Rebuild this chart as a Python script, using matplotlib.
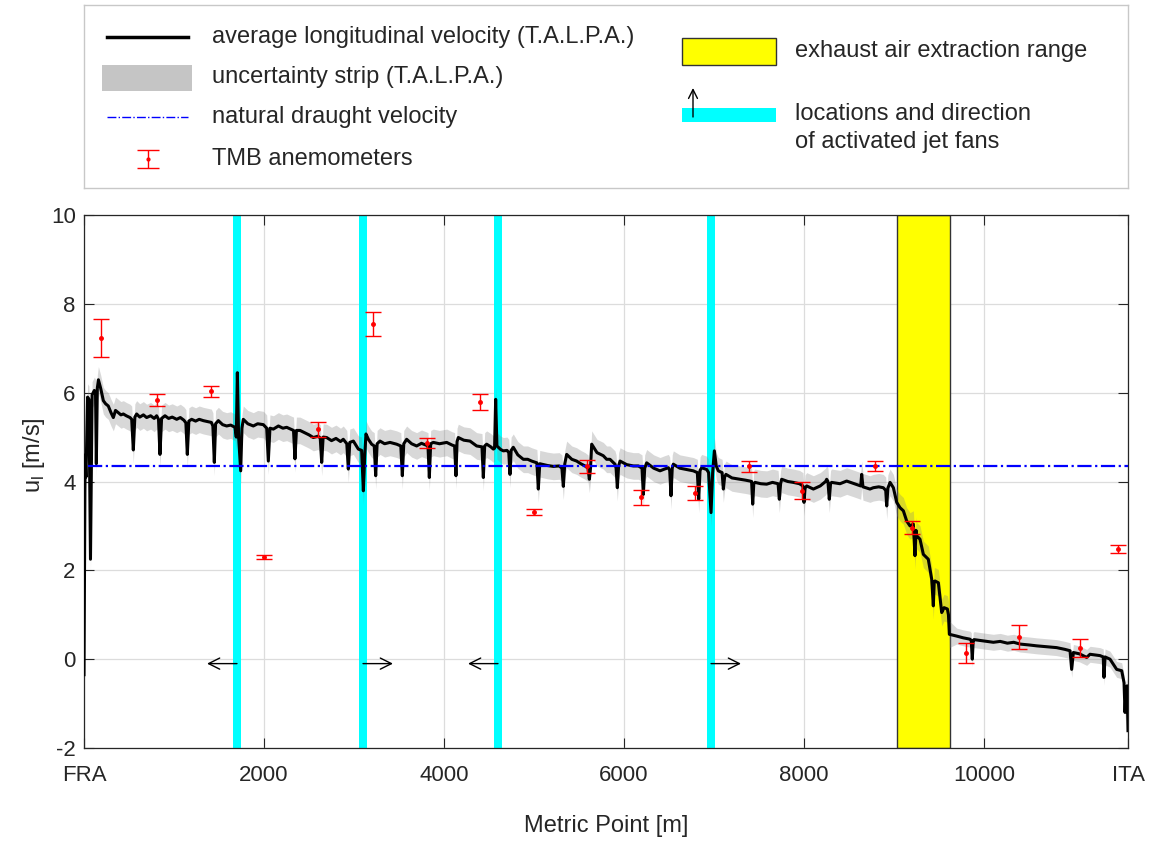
import numpy as np
import matplotlib
matplotlib.use('Agg')
import matplotlib.pyplot as plt
from matplotlib.patches import Rectangle

plt.rcParams['font.family'] = ['Liberation Sans', 'DejaVu Sans']
plt.rcParams['axes.unicode_minus'] = False

# --- data ------------------------------------------------------------------
# average longitudinal velocity (T.A.L.P.A.), metric point [m] vs u_l [m/s]
curve_pts = [
    (0, -0.35), (12, 4.6), (22, 4.1), (40, 5.9), (55, 5.85), (72, 2.25), (90, 5.95),
    (115, 6.05), (128, 6.0), (137, 4.4), (148, 6.1), (160, 6.29), (185, 6.1), (215, 5.82),
    (240, 5.75), (270, 5.7), (300, 5.55), (326, 5.44), (350, 5.6), (381, 5.55), (410, 5.5),
    (437, 5.52), (470, 5.48), (511, 5.44), (530, 5.4), (548, 4.71), (565, 5.45), (585, 5.52),
    (620, 5.45), (660, 5.5), (696, 5.44), (740, 5.48), (780, 5.42), (807, 5.48), (828, 5.4),
    (844, 4.61), (862, 5.42), (900, 5.48), (940, 5.42), (980, 5.45), (1030, 5.40), (1070, 5.44),
    (1110, 5.38), (1132, 5.32), (1148, 4.61), (1165, 5.36), (1196, 5.40), (1240, 5.36),
    (1280, 5.4), (1326, 5.37), (1370, 5.35), (1415, 5.33), (1432, 5.25), (1448, 4.43),
    (1462, 5.3), (1493, 5.37), (1540, 5.28), (1585, 5.25), (1630, 5.27), (1678, 5.22),
    (1692, 5.0), (1704, 6.45), (1718, 5.0), (1741, 4.24), (1755, 5.2), (1770, 5.40),
    (1820, 5.3), (1881, 5.25), (1930, 5.3), (1993, 5.28), (2030, 5.2), (2048, 4.46),
    (2066, 5.2), (2104, 5.18), (2160, 5.25), (2210, 5.2), (2252, 5.22), (2328, 5.15),
    (2344, 4.51), (2360, 5.15), (2400, 5.15), (2450, 5.1), (2500, 5.05), (2548, 4.99),
    (2600, 5.02), (2625, 4.98), (2641, 4.43), (2657, 5.0), (2696, 4.99), (2750, 4.92),
    (2800, 4.97), (2850, 4.9), (2881, 4.95), (2920, 4.85), (2937, 4.28), (2953, 4.88),
    (2993, 4.91), (3048, 4.73), (3085, 4.7), (3104, 3.79), (3120, 4.6), (3133, 5.07),
    (3160, 4.95), (3196, 4.84), (3225, 4.8), (3241, 4.13), (3257, 4.85), (3289, 4.91),
    (3340, 4.85), (3400, 4.88), (3474, 4.84), (3520, 4.8), (3537, 4.13), (3553, 4.85),
    (3585, 4.95), (3640, 4.85), (3696, 4.80), (3750, 4.86), (3800, 4.82), (3822, 4.8),
    (3837, 4.09), (3852, 4.85), (3881, 4.88), (3950, 4.85), (4030, 4.88), (4090, 4.82),
    (4118, 4.8), (4133, 4.13), (4145, 4.9), (4159, 4.99), (4220, 4.93), (4289, 4.91),
    (4330, 4.85), (4363, 4.80), (4422, 4.78), (4437, 4.09), (4452, 4.8), (4474, 4.84),
    (4520, 4.78), (4548, 4.73), (4562, 4.75), (4574, 5.85), (4588, 4.8), (4604, 4.77),
    (4630, 4.72), (4659, 4.69), (4700, 4.7), (4720, 4.65), (4733, 4.16), (4746, 4.7),
    (4770, 4.77), (4820, 4.6), (4881, 4.50), (4930, 4.5), (4974, 4.46), (5032, 4.42),
    (5048, 3.83), (5064, 4.4), (5085, 4.39), (5150, 4.36), (5215, 4.34), (5280, 4.35),
    (5310, 4.3), (5326, 3.89), (5342, 4.4), (5363, 4.61), (5420, 4.5), (5474, 4.46),
    (5520, 4.4), (5567, 4.35), (5600, 4.3), (5615, 4.05), (5628, 4.3), (5641, 4.84),
    (5700, 4.65), (5770, 4.58), (5807, 4.50), (5844, 4.5), (5900, 4.39), (5912, 4.3),
    (5926, 3.86), (5940, 4.35), (5956, 4.46), (6030, 4.38), (6104, 4.35), (6160, 4.35),
    (6200, 4.3), (6215, 3.71), (6230, 4.3), (6252, 4.42), (6330, 4.3), (6400, 4.24),
    (6450, 4.28), (6493, 4.31), (6508, 4.25), (6522, 3.68), (6536, 4.3), (6548, 4.39),
    (6620, 4.3), (6696, 4.27), (6770, 4.24), (6815, 4.2), (6830, 3.60), (6845, 4.25),
    (6863, 4.31), (6919, 4.27), (6940, 4.2), (6967, 3.30), (6985, 4.2), (7004, 4.69),
    (7025, 4.35), (7048, 4.24), (7090, 4.2), (7104, 3.83), (7118, 4.1), (7133, 4.16),
    (7200, 4.08), (7289, 4.05), (7350, 4.03), (7400, 4.01), (7418, 4.0), (7430, 3.49),
    (7442, 3.95), (7456, 3.98), (7520, 3.95), (7585, 3.94), (7650, 3.98), (7712, 3.95),
    (7726, 3.60), (7740, 3.95), (7752, 4.05), (7820, 4.0), (7881, 3.98), (7950, 3.95),
    (7988, 3.9), (8000, 3.53), (8012, 3.85), (8030, 3.90), (8104, 3.83), (8180, 3.9),
    (8240, 4.0), (8252, 4.05), (8266, 4.0), (8281, 3.60), (8295, 3.95), (8307, 3.98),
    (8400, 3.95), (8474, 4.01), (8560, 3.95), (8630, 3.9), (8641, 4.16), (8655, 3.88),
    (8733, 3.83), (8770, 3.86), (8830, 3.88), (8881, 3.86), (8908, 3.8), (8919, 3.45),
    (8932, 3.85), (8956, 3.98), (8993, 3.86), (9030, 3.53), (9067, 3.41), (9104, 3.34),
    (9141, 3.11), (9178, 3.00), (9215, 3.04), (9233, 2.33), (9245, 2.9), (9252, 2.78),
    (9289, 2.70), (9326, 2.36), (9381, 2.25), (9419, 1.80), (9437, 1.20), (9447, 1.75),
    (9456, 1.76), (9493, 1.72), (9530, 1.05), (9556, 1.16), (9593, 1.13), (9605, 1.0),
    (9615, 0.56), (9696, 0.52), (9770, 0.48), (9844, 0.45), (9858, 0.42), (9870, 0.0),
    (9880, 0.42), (9889, 0.44), (9960, 0.42), (10030, 0.4), (10104, 0.38), (10180, 0.4),
    (10260, 0.36), (10330, 0.38), (10400, 0.34), (10500, 0.32), (10585, 0.30), (10700, 0.28),
    (10807, 0.26), (10900, 0.22), (10956, 0.19), (10974, -0.23), (10993, 0.15), (11060, 0.12),
    (11141, 0.04), (11178, 0.11), (11289, 0.08), (11325, 0.05), (11333, -0.41), (11345, 0.05),
    (11356, 0.04), (11400, 0.0), (11474, -0.23), (11530, -0.26), (11556, -0.53),
    (11567, -1.2), (11578, -0.7), (11590, -0.6), (11600, -1.61),
]
x_curve = np.array([p[0] for p in curve_pts], dtype=float)
u_curve = np.array([p[1] for p in curve_pts], dtype=float)

# half width of the uncertainty strip, upstream / downstream of the extraction
strip_half_up = 0.30
strip_half_down = 0.18

natural_draught = 4.35

# TMB anemometers
tmb_x = [189, 811, 1411, 2000, 2600, 3211, 3807, 4400, 5000, 5585,
         6189, 6793, 7393, 7978, 8789, 9196, 9800, 10389, 11067, 11492]
tmb_u = [7.23, 5.83, 6.03, 2.30, 5.18, 7.54, 4.87, 5.79, 3.31, 4.34,
         3.64, 3.74, 4.34, 3.79, 4.35, 2.96, 0.14, 0.49, 0.25, 2.49]
tmb_err = [0.43, 0.13, 0.12, 0.05, 0.17, 0.27, 0.11, 0.18, 0.06, 0.15,
           0.16, 0.15, 0.13, 0.19, 0.11, 0.14, 0.22, 0.27, 0.20, 0.09]

# activated jet fans: position [m] and blowing direction
jet_x = [1700, 3100, 4600, 6967]
jet_dir = [-1, 1, -1, 1]

# exhaust air extraction range [m]
extract_from, extract_to = 9030, 9620

x_ticks = [0, 2000, 4000, 6000, 8000, 10000, 11600]
x_ticklabels = ['FRA', '2000', '4000', '6000', '8000', '10000', 'ITA']
y_ticks = [-2, 0, 2, 4, 6, 8, 10]

# --- figure -----------------------------------------------------------------
W, H = 1153, 846
fig = plt.figure(figsize=(W / 100, H / 100), dpi=100)
ax = fig.add_axes([84 / W, 1 - 748 / H, 1044 / W, 533 / H])

dark = '#262626'
jet_w = 90

for xj in jet_x:
    ax.axvspan(xj - jet_w / 2, xj + jet_w / 2, color='cyan', lw=0, zorder=1)
ax.axvspan(extract_from, extract_to, facecolor='yellow', edgecolor='#333333',
           lw=1.0, zorder=1)

half = np.where(x_curve < extract_to, strip_half_up, strip_half_down)
ax.fill_between(x_curve, u_curve - half, u_curve + half, color='0.5',
                alpha=0.3, lw=0, zorder=2)
ax.plot(x_curve, u_curve, color='black', lw=2.2, zorder=3)
ax.plot([50, 11600], [natural_draught, natural_draught], color='blue',
        ls='-.', lw=1.6, zorder=4)
ax.errorbar(tmb_x, tmb_u, yerr=tmb_err, fmt='.', color='red', ms=5,
            elinewidth=1.0, capsize=6, capthick=1.0, zorder=5)

arrow_len = 333
for xj, d in zip(jet_x, jet_dir):
    ax.annotate('', xy=(xj + d * arrow_len, -0.1), xytext=(xj, -0.1),
                arrowprops=dict(arrowstyle='->', color='black', lw=1.0,
                                shrinkA=0, shrinkB=0, mutation_scale=20),
                zorder=6)

ax.set_xlim(0, 11600)
ax.set_ylim(-2, 10)
ax.set_xticks(x_ticks)
ax.set_xticklabels(x_ticklabels)
ax.set_yticks(y_ticks)
ax.grid(True, color='#dcdcdc', lw=0.9)
ax.set_axisbelow(True)
ax.tick_params(direction='in', length=7, width=0.8, colors=dark,
               labelsize=16, top=True, right=True, pad=6)
ax.tick_params(axis='x', pad=12)
for s in ax.spines.values():
    s.set_color(dark)
    s.set_linewidth(0.9)

ax.set_xlabel('Metric Point [m]', fontsize=17, color=dark)
ax.xaxis.set_label_coords(0.5, -0.125)
ax.set_ylabel(r'u$_\mathregular{l}$ [m/s]', fontsize=17, color=dark)
ax.yaxis.set_label_coords(-0.035, 0.55)

# --- legend box drawn by hand -------------------------------------------------
lg = fig.add_axes([84 / W, 1 - 188 / H, 1044 / W, 183 / H])
lg.set_xlim(84, 1128)
lg.set_ylim(188, 5)
lg.set_xticks([])
lg.set_yticks([])
for s in lg.spines.values():
    s.set_color('#c8c8c8')
    s.set_linewidth(1.0)

fs = 17
lg.plot([107, 188], [37, 37], color='black', lw=2.5)
lg.add_patch(Rectangle((102, 65), 90, 26, facecolor='0.5', alpha=0.45, lw=0))
lg.plot([107, 188], [117, 117], color='blue', ls='-.', lw=1.0)
lg.errorbar([148], [159], yerr=[[9], [9]], fmt='.', color='red', ms=4,
            elinewidth=1.0, capsize=8, capthick=1.0)
lg.text(212, 37, 'average longitudinal velocity (T.A.L.P.A.)', fontsize=fs,
        va='center', color=dark)
lg.text(212, 77, 'uncertainty strip (T.A.L.P.A.)', fontsize=fs, va='center', color=dark)
lg.text(212, 117, 'natural draught velocity', fontsize=fs, va='center', color=dark)
lg.text(212, 159, 'TMB anemometers', fontsize=fs, va='center', color=dark)

lg.add_patch(Rectangle((682, 38), 94, 27, facecolor='yellow', edgecolor='#333333', lw=1.0))
lg.add_patch(Rectangle((682, 108), 94, 14, facecolor='cyan', lw=0))
lg.annotate('', xy=(693, 88), xytext=(693, 117),
            arrowprops=dict(arrowstyle='->', color='black', lw=1.0,
                            shrinkA=0, shrinkB=0, mutation_scale=16))
lg.text(795, 51, 'exhaust air extraction range', fontsize=fs, va='center', color=dark)
lg.text(795, 114, 'locations and direction', fontsize=fs, va='center', color=dark)
lg.text(795, 142, 'of activated jet fans', fontsize=fs, va='center', color=dark)

fig.savefig('out.png', dpi=100)
